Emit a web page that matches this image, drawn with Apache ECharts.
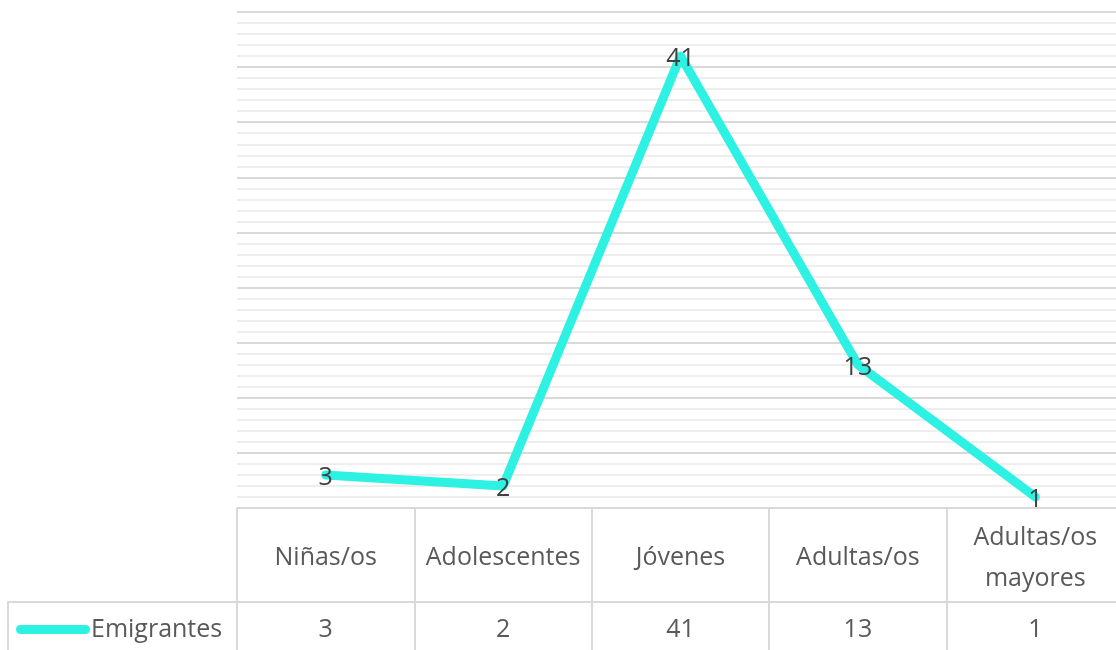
<!DOCTYPE html>
<html>
<head>
<meta charset="utf-8">
<script src="https://cdn.jsdelivr.net/npm/echarts@6/dist/echarts.min.js"></script>
<style>
html,body{margin:0;padding:0;background:#fff;}
#c{width:1116px;height:650px;}
</style>
</head>
<body>
<div id="c"></div>
<script>
const categories = ['Niñas/os', 'Adolescentes', 'Jóvenes', 'Adultas/os', 'Adultas/os\nmayores'];
const seriesName = 'Emigrantes';
const values = [3, 2, 41, 13, 1];
const yMin = 0, yMax = 45, yInterval = 5;

const FONT = 'Open Sans';
const FS = 25;
const chart = echarts.init(document.getElementById('c'), null, {renderer: 'canvas'});
const border = '#d9d9d9';
chart.setOption({
  animation: false,
  backgroundColor: '#ffffff',
  textStyle: {fontFamily: FONT},
  grid: {left: 237, top: 12, width: 887, height: 496, containLabel: false, outerBoundsMode: 'none'},
  legend: {
    left: 11, top: 612,
    data: [seriesName],
    icon: 'path://M4.5,0 H69.5 A4.5,4.5 0 0 1 69.5,9 H4.5 A4.5,4.5 0 0 1 4.5,0 Z',
    itemWidth: 74, itemHeight: 9,
    textStyle: {fontFamily: FONT, fontSize: FS, color: '#595959', padding: [0,0,0,-4]}
  },
  xAxis: [
    {
      type: 'category', data: categories, boundaryGap: true, position: 'bottom',
      axisLine: {show: true, lineStyle: {color: border, width: 2}},
      axisTick: {show: true, length: 94, lineStyle: {color: border, width: 2}},
      axisLabel: {fontFamily: FONT, fontSize: FS, color: '#595959', margin: 50,
                  verticalAlign: 'middle', lineHeight: 41, interval: 0},
      splitLine: {show: false}
    },
    {
      type: 'category', data: categories, boundaryGap: true, position: 'bottom', offset: 94,
      axisLine: {show: true, lineStyle: {color: border, width: 2}},
      axisTick: {show: true, length: 60, lineStyle: {color: border, width: 2}},
      axisLabel: {fontFamily: FONT, fontSize: FS, color: '#595959', margin: 28,
                  verticalAlign: 'middle', interval: 0,
                  formatter: (v, i) => String(values[i])},
      splitLine: {show: false}
    }
  ],
  yAxis: {
    type: 'value', min: yMin, max: yMax, interval: yInterval,
    axisLine: {show: false}, axisTick: {show: false}, axisLabel: {show: false},
    splitLine: {show: true, lineStyle: {color: '#d9d9d9', width: 2}},
    minorTick: {show: false, splitNumber: 5},
    minorSplitLine: {show: true, lineStyle: {color: '#eeeeee', width: 2}}
  },
  graphic: [
    {type: 'line', shape: {x1: 8, y1: 602, x2: 238, y2: 602}, style: {stroke: border, lineWidth: 2}, z: 10},
    {type: 'line', shape: {x1: 8, y1: 601, x2: 8, y2: 660}, style: {stroke: border, lineWidth: 2}, z: 10}
  ],
  series: [{
    name: seriesName, type: 'line', data: values, xAxisIndex: 0,
    symbol: 'circle', symbolSize: 0.1, showSymbol: true,
    lineStyle: {color: '#2df2e3', width: 9, cap: 'round', join: 'round'},
    itemStyle: {color: '#2df2e3'},
    label: {show: true, position: 'inside', offset: [0, 3], fontFamily: FONT, fontSize: FS, color: '#404040'},
    z: 3
  }]
});
</script>
</body>
</html>
